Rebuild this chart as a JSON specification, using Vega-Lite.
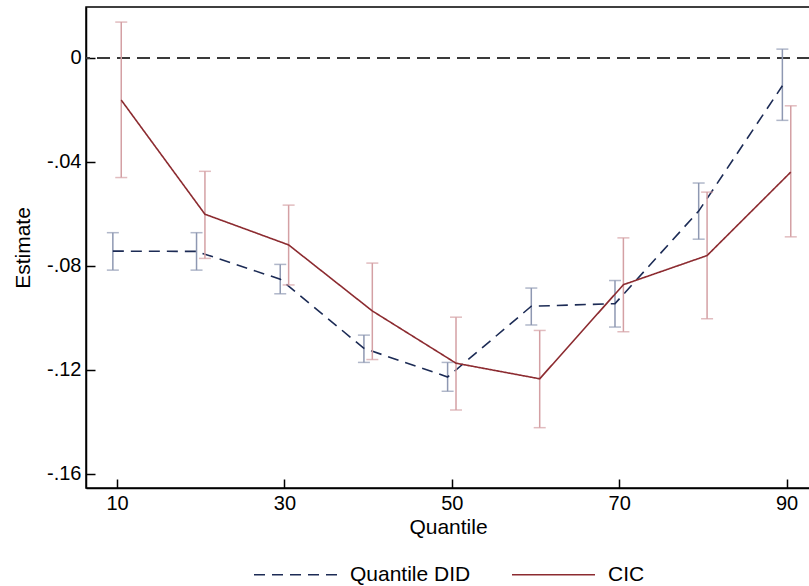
{
  "$schema": "https://vega.github.io/schema/vega-lite/v6.json",
  "width": 724,
  "height": 481,
  "autosize": "none",
  "padding": {"left": 86, "top": 7, "right": 0, "bottom": 98},
  "background": "white",
  "config": {
    "view": {"stroke": "#000", "strokeWidth": 1.5},
    "font": "Liberation Sans",
    "axis": {
      "grid": false,
      "domainColor": "#000",
      "domainWidth": 1.5,
      "tickColor": "#000",
      "tickWidth": 1.5,
      "tickSize": -9,
      "labelPadding": 14,
      "labelFont": "Liberation Sans",
      "labelFontSize": 20,
      "labelColor": "#000",
      "titleFont": "Liberation Sans",
      "titleFontSize": 21,
      "titleFontWeight": "normal",
      "titleColor": "#000"
    },
    "legend": {
      "orient": "none",
      "legendX": 167,
      "legendY": 525,
      "direction": "horizontal",
      "symbolType": "stroke",
      "symbolSize": 6889,
      "symbolStrokeWidth": 1.5,
      "labelFont": "Liberation Sans",
      "labelFontSize": 21,
      "labelColor": "#000",
      "labelOffset": 12,
      "columnPadding": 38,
      "titlePadding": 0
    }
  },
  "data": {
    "values": [
      {"series": "Quantile DID", "q": 10, "est": -0.0744, "lo": -0.0817, "hi": -0.0673},
      {"series": "Quantile DID", "q": 20, "est": -0.0745, "lo": -0.0817, "hi": -0.0673},
      {"series": "Quantile DID", "q": 30, "est": -0.0852, "lo": -0.0908, "hi": -0.0795},
      {"series": "Quantile DID", "q": 40, "est": -0.1118, "lo": -0.1172, "hi": -0.1067},
      {"series": "Quantile DID", "q": 50, "est": -0.1228, "lo": -0.1283, "hi": -0.1172},
      {"series": "Quantile DID", "q": 60, "est": -0.0956, "lo": -0.1028, "hi": -0.0886},
      {"series": "Quantile DID", "q": 70, "est": -0.0946, "lo": -0.1036, "hi": -0.0857},
      {"series": "Quantile DID", "q": 80, "est": -0.0590, "lo": -0.0698, "hi": -0.0482},
      {"series": "Quantile DID", "q": 90, "est": -0.0108, "lo": -0.0241, "hi": 0.0033},
      {"series": "CIC", "q": 10, "est": -0.0163, "lo": -0.0461, "hi": 0.0137},
      {"series": "CIC", "q": 20, "est": -0.0602, "lo": -0.0772, "hi": -0.0437},
      {"series": "CIC", "q": 30, "est": -0.0720, "lo": -0.0874, "hi": -0.0567},
      {"series": "CIC", "q": 40, "est": -0.0974, "lo": -0.1161, "hi": -0.0790},
      {"series": "CIC", "q": 50, "est": -0.1175, "lo": -0.1355, "hi": -0.0998},
      {"series": "CIC", "q": 60, "est": -0.1235, "lo": -0.1423, "hi": -0.1049},
      {"series": "CIC", "q": 70, "est": -0.0873, "lo": -0.1054, "hi": -0.0693},
      {"series": "CIC", "q": 80, "est": -0.0761, "lo": -0.1004, "hi": -0.0517},
      {"series": "CIC", "q": 90, "est": -0.0440, "lo": -0.0689, "hi": -0.0185}
    ]
  },
  "encoding": {
    "x": {
      "field": "q",
      "type": "quantitative",
      "scale": {"domain": [6.29, 92.8], "nice": false, "zero": false},
      "axis": {"values": [10, 30, 50, 70, 90], "title": "Quantile", "titlePadding": 3}
    }
  },
  "layer": [
    {
      "mark": {"type": "rule", "strokeDash": [13, 7], "color": "#3a3a3a", "strokeWidth": 1.5},
      "encoding": {
        "x": null,
        "y": {
          "datum": 0,
          "type": "quantitative",
          "scale": {"domain": [-0.1655, 0.0195], "nice": false, "zero": false},
          "axis": {
            "values": [0, -0.04, -0.08, -0.12, -0.16],
            "title": "Estimate",
            "titlePadding": 13,
            "labelExpr": "datum.value == 0 ? '0' : '-.' + format(-datum.value * 100, '02.0f')"
          }
        }
      }
    },
    {
      "transform": [{"filter": "datum.series == 'Quantile DID'"}],
      "layer": [
        {
          "mark": {"type": "rule", "color": "#8e98b2", "strokeWidth": 1.5, "xOffset": -4.2},
          "encoding": {
            "y": {"field": "lo", "type": "quantitative", "title": "Estimate"},
            "y2": {"field": "hi"}
          }
        },
        {
          "mark": {"type": "tick", "orient": "horizontal", "color": "#8e98b2", "size": 12, "thickness": 1.5, "xOffset": -4.2},
          "encoding": {"y": {"field": "lo", "type": "quantitative", "title": "Estimate"}}
        },
        {
          "mark": {"type": "tick", "orient": "horizontal", "color": "#8e98b2", "size": 12, "thickness": 1.5, "xOffset": -4.2},
          "encoding": {"y": {"field": "hi", "type": "quantitative", "title": "Estimate"}}
        },
        {
          "mark": {"type": "line", "strokeWidth": 1.6, "xOffset": -4.2},
          "encoding": {
            "y": {"field": "est", "type": "quantitative", "title": "Estimate"},
            "color": {"field": "series", "type": "nominal", "legend": {"title": null}, "scale": {"domain": ["Quantile DID", "CIC"], "range": ["#1c2b55", "#8c2b30"]}},
            "strokeDash": {"field": "series", "type": "nominal", "legend": {"title": null}, "scale": {"domain": ["Quantile DID", "CIC"], "range": [[11, 7], [1, 0]]}}
          }
        }
      ]
    },
    {
      "transform": [{"filter": "datum.series == 'CIC'"}],
      "layer": [
        {
          "mark": {"type": "rule", "color": "#d4a0a4", "strokeWidth": 1.5, "xOffset": 4.2},
          "encoding": {
            "y": {"field": "lo", "type": "quantitative", "title": "Estimate"},
            "y2": {"field": "hi"}
          }
        },
        {
          "mark": {"type": "tick", "orient": "horizontal", "color": "#d4a0a4", "size": 12, "thickness": 1.5, "xOffset": 4.2},
          "encoding": {"y": {"field": "lo", "type": "quantitative", "title": "Estimate"}}
        },
        {
          "mark": {"type": "tick", "orient": "horizontal", "color": "#d4a0a4", "size": 12, "thickness": 1.5, "xOffset": 4.2},
          "encoding": {"y": {"field": "hi", "type": "quantitative", "title": "Estimate"}}
        },
        {
          "mark": {"type": "line", "strokeWidth": 1.6, "xOffset": 4.2},
          "encoding": {
            "y": {"field": "est", "type": "quantitative", "title": "Estimate"},
            "color": {"field": "series", "type": "nominal", "legend": {"title": null}, "scale": {"domain": ["Quantile DID", "CIC"], "range": ["#1c2b55", "#8c2b30"]}},
            "strokeDash": {"field": "series", "type": "nominal", "legend": {"title": null}, "scale": {"domain": ["Quantile DID", "CIC"], "range": [[11, 7], [1, 0]]}}
          }
        }
      ]
    }
  ]
}
